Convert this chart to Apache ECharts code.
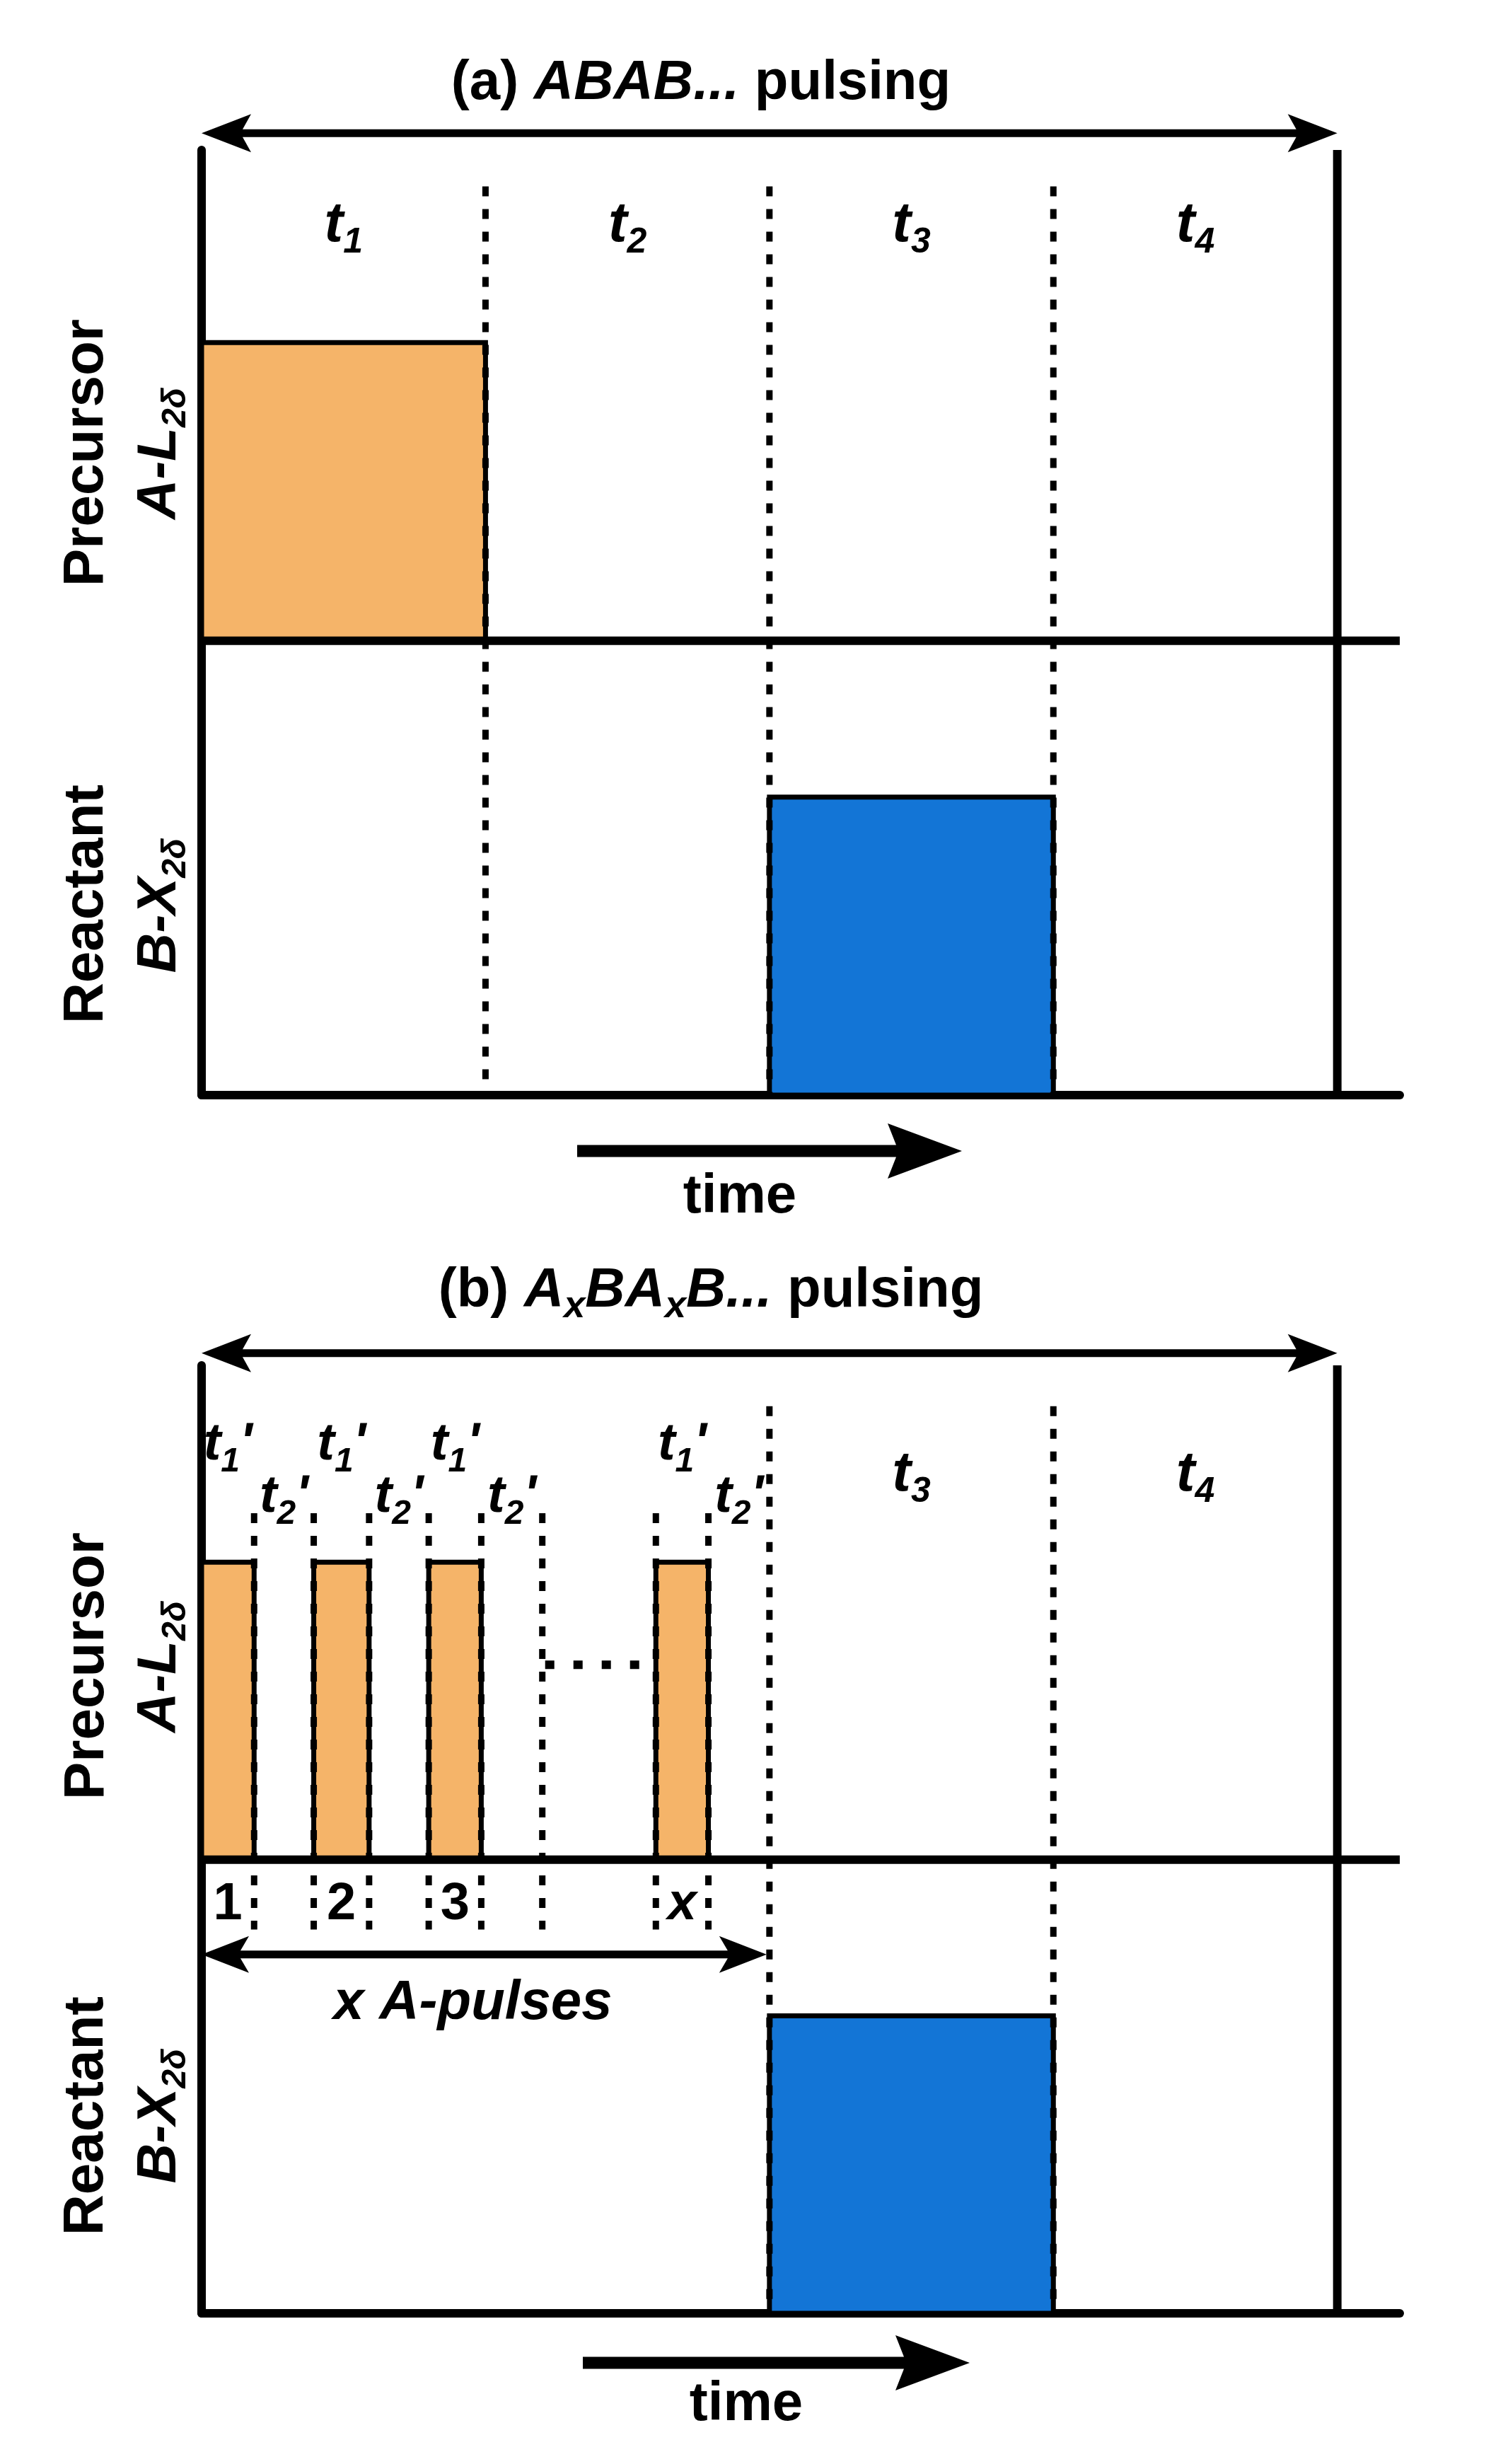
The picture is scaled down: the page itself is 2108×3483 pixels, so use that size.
<!DOCTYPE html>
<html>
<head>
<meta charset="utf-8">
<title>ABAB vs AxBAxB pulsing</title>
<script src="https://cdn.jsdelivr.net/npm/echarts@6/dist/echarts.min.js"></script>
<style>
    html, body { margin: 0; padding: 0; background: #fff; }
    #chart { width: 2108px; height: 3483px; }
</style>
</head>
<body>
<div id="chart"></div>
<script>
// time axis: one unit = one step of the ABAB cycle (t1 .. t4)
// height axis: one unit = one gas channel (reactant 0..1, precursor 1..2)
var phaseSubs = ['1', '2', '3', '4'];
var cycleEnd = 4;
var pulseHeight = 0.656;

// (a) ABAB... pulsing
var precursorA = [[0, 1]];
var reactantA = [[2, 3]];
var dividersA = [1, 2, 3];

// (b) AxBAxB... pulsing
var precursorB = [[0, 0.185], [0.395, 0.59], [0.8, 0.985], [1.6, 1.785]];
var subDividersB = [0.185, 0.395, 0.59, 0.8, 0.985, 1.2, 1.6, 1.785];
var reactantB = [[2, 3]];
var dividersB = [2, 3];
var pulseNames = ['1', '2', '3', 'x'];
var aPulsesEnd = 1.99;

var ORANGE = '#F5B469';
var BLUE = '#1375D6';
var FONT = '"Liberation Sans", Arial, Helvetica, sans-serif';

var chart = echarts.init(document.getElementById('chart'));

function tok(size, italic, padTop) {
    return {
        fontSize: size, fontWeight: 'bold', fontStyle: italic ? 'italic' : 'normal',
        fontFamily: FONT, fill: '#000', padding: [padTop || 0, 0, 0, 0]
    };
}

var richT = { t: tok(80, true), s: tok(50, true, 50) };
var richTp = { t: tok(74, true), s: tok(48, true, 48), p: tok(74, true) };
var richTitle = { n: tok(78, false), i: tok(78, true), s: tok(54, true, 44) };
var richY = { n: tok(80, false), i: tok(78, true), s: tok(48, true, 46) };

function arrowPts(x1, x2, y, shaft, L, H, n, both) {
    var h = shaft / 2, pts = [];
    if (both) pts.push([x1, y], [x1 + L, y - H], [x1 + L - n, y - h]);
    else pts.push([x1, y - h]);
    pts.push([x2 - L + n, y - h], [x2 - L, y - H], [x2, y], [x2 - L, y + H], [x2 - L + n, y + h]);
    if (both) pts.push([x1 + L - n, y + h], [x1 + L, y + H]);
    else pts.push([x1, y + h]);
    return pts;
}

// pulse rectangles: [start, end, channel base]
function pulseSeries(grid, data, color) {
    return {
        type: 'custom', xAxisIndex: grid, yAxisIndex: grid, z: 2, clip: false,
        data: data,
        renderItem: function (params, api) {
            var p0 = api.coord([api.value(0), api.value(2) + pulseHeight]);
            var p1 = api.coord([api.value(1), api.value(2)]);
            return {
                type: 'rect',
                shape: { x: p0[0], y: p0[1], width: p1[0] - p0[0], height: p1[1] - p0[1] },
                style: { fill: color, stroke: '#000', lineWidth: 7 }
            };
        }
    };
}

// straight segments: [x1, y1, x2, y2]
function segSeries(grid, data, dash, z) {
    return {
        type: 'custom', xAxisIndex: grid, yAxisIndex: grid, z: z, clip: false,
        data: data,
        renderItem: function (params, api) {
            var a = api.coord([api.value(0), api.value(1)]);
            var b = api.coord([api.value(2), api.value(3)]);
            return {
                type: 'line',
                shape: { x1: a[0], y1: a[1], x2: b[0], y2: b[1] },
                style: dash ? { stroke: '#000', lineWidth: dash[2], lineDash: [dash[0], dash[1]] }
                            : { stroke: '#000', lineWidth: 12 }
            };
        }
    };
}
var DOTS = [14, 18, 9];
var ELLIPSIS = [13, 27, 12];

// double arrows: [x1, x2, y, shaft, head length, head half-height]
function arrowSeries(grid, data) {
    return {
        type: 'custom', xAxisIndex: grid, yAxisIndex: grid, z: 5, clip: false,
        data: data,
        renderItem: function (params, api) {
            var a = api.coord([api.value(0), api.value(2)]);
            var b = api.coord([api.value(1), api.value(2)]);
            return {
                type: 'polygon',
                shape: { points: arrowPts(a[0], b[0], a[1], api.value(3), api.value(4), api.value(5), 12, true) },
                style: { fill: '#000' }
            };
        }
    };
}

// text labels: [x, y, text index]
function textSeries(grid, data, texts, rich) {
    return {
        type: 'custom', xAxisIndex: grid, yAxisIndex: grid, z: 6, clip: false,
        data: data,
        renderItem: function (params, api) {
            var p = api.coord([api.value(0), api.value(1)]);
            return {
                type: 'text', x: p[0], y: p[1],
                style: { text: texts[api.value(2)], rich: rich, align: 'center', verticalAlign: 'middle' }
            };
        }
    };
}

var phaseMid = [];
for (var i = 0; i < cycleEnd; i++) phaseMid.push(i + 0.5);
var tTexts = phaseSubs.map(function (s) { return '{t|t}{s|' + s + '}'; });

var pulseMid = precursorB.map(function (p) { return (p[0] + p[1]) / 2; });
// t2' purge after each A pulse runs to the next divider (or to the B pulse)
var gapMid = precursorB.map(function (p) {
    var next = reactantB[0][0];
    for (var k = 0; k < subDividersB.length; k++) {
        if (subDividersB[k] > p[1] + 1e-6) { next = subDividersB[k]; break; }
    }
    return (p[1] + next) / 2;
});

var xMax = 4.22;

var series = [
    // panel (a)
    pulseSeries(0, precursorA.map(function (p) { return [p[0], p[1], 1]; }), ORANGE),
    pulseSeries(0, reactantA.map(function (p) { return [p[0], p[1], 0]; }), BLUE),
    segSeries(0, dividersA.map(function (x) { return [x, 2, x, 0]; }), DOTS, 3),
    segSeries(0, [[0, 1, xMax, 1], [cycleEnd, 0, cycleEnd, 2.08]], null, 4),
    arrowSeries(0, [[0, cycleEnd, 2.117, 11, 70, 27]]),
    textSeries(0, phaseMid.map(function (x, k) { return [x, 1.914, k]; }), tTexts, richT),

    // panel (b)
    pulseSeries(1, precursorB.map(function (p) { return [p[0], p[1], 1]; }), ORANGE),
    pulseSeries(1, reactantB.map(function (p) { return [p[0], p[1], 0]; }), BLUE),
    segSeries(1, subDividersB.map(function (x) { return [x, 1.764, x, 0.846]; }), DOTS, 3),
    segSeries(1, dividersB.map(function (x) { return [x, 2, x, 0]; }), DOTS, 3),
    segSeries(1, [[1.21, 1.43, 1.545, 1.43]], ELLIPSIS, 3),
    segSeries(1, [[0, 1, xMax, 1], [cycleEnd, 0, cycleEnd, 2.09]], null, 4),
    arrowSeries(1, [[0, cycleEnd, 2.117, 11, 70, 27], [0, aPulsesEnd, 0.791, 11, 67, 26]]),
    textSeries(1, pulseMid.map(function (x) { return [x, 1.914, 0]; }), ["{t|t}{s|1}{p|'}"], richTp),
    textSeries(1, gapMid.map(function (x) { return [x, 1.799, 0]; }), ["{t|t}{s|2}{p|'}"], richTp),
    textSeries(1, [[2.5, 1.849, 2], [3.5, 1.849, 3]], tTexts, richT),
    textSeries(1, pulseMid.map(function (x, k) { return [x, 0.9, k]; }),
        pulseNames.map(function (s) { return s === 'x' ? '{i|x}' : '{n|' + s + '}'; }),
        { n: tok(74, false), i: tok(74, true) }),
    textSeries(1, [[aPulsesEnd / 2 - 0.04, 0.682, 0]], ['{i|x A-pulses}'], { i: tok(78, true) })
];

function axisPair(n, yMax) {
    var base = {
        type: 'value', min: 0, gridIndex: n,
        axisTick: { show: false }, axisLabel: { show: false }, splitLine: { show: false },
        axisLine: { show: true, lineStyle: { color: '#000', width: 12 } }
    };
    return {
        x: Object.assign({}, base, { max: xMax }),
        y: Object.assign({}, base, { max: yMax })
    };
}
var axA = axisPair(0, 2.08), axB = axisPair(1, 2.09);

function label(x, y, text, rotate) {
    return {
        type: 'text', x: x, y: y, rotation: rotate ? Math.PI / 2 : 0, z: 10,
        style: { text: text, rich: rotate ? richY : richTitle, align: 'center', verticalAlign: 'middle' }
    };
}
function timeArrow(x1, x2, y) {
    return { type: 'polygon', z: 10, shape: { points: arrowPts(x1, x2, y, 17, 105, 39, 12, false) }, style: { fill: '#000' } };
}

var graphics = [
    label(991, 118, '{n|(a) }{i|ABAB...}{n| pulsing}'),
    label(1005, 1825, '{n|(b) }{i|A}{s|x}{i|BA}{s|x}{i|B...}{n| pulsing}'),
    label(123, 640, '{n|Precursor}', true),
    label(226, 641, '{i|A-L}{s|2δ}', true),
    label(123, 1278, '{n|Reactant}', true),
    label(226, 1280, '{i|B-X}{s|2δ}', true),
    label(124, 2355, '{n|Precursor}', true),
    label(226, 2356, '{i|A-L}{s|2δ}', true),
    label(123, 2991, '{n|Reactant}', true),
    label(226, 2991, '{i|B-X}{s|2δ}', true),
    timeArrow(816, 1360, 1627),
    timeArrow(824, 1371, 3340),
    label(1046, 1692, '{n|time}'),
    label(1055, 3399, '{n|time}')
];

var option = {
    animation: false,
    backgroundColor: '#fff',
    grid: [
        { left: 285, top: 212, width: 1694, height: 1336, containLabel: false },
        { left: 285, top: 1930, width: 1694, height: 1340, containLabel: false }
    ],
    xAxis: [axA.x, axB.x],
    yAxis: [axA.y, axB.y],
    series: series,
    graphic: graphics
};

chart.setOption(option);
window.onresize = function () {
    chart.resize();
};
</script>
</body>
</html>
